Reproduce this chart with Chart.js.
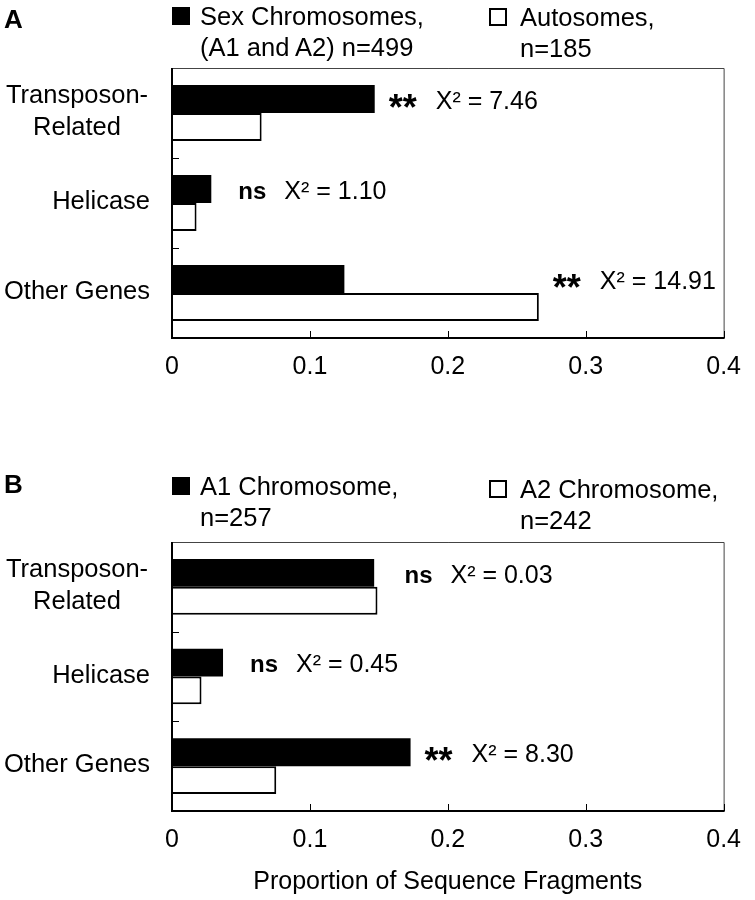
<!DOCTYPE html>
<html>
<head>
<meta charset="utf-8">
<script src="https://cdn.jsdelivr.net/npm/chart.js@4.4.1/dist/chart.umd.min.js"></script>
<style>
  body { margin: 0; background: #fff; font-family: "Liberation Sans", Arial, sans-serif; color: #000; }
  #page { position: relative; width: 755px; height: 900px; overflow: hidden; }
  canvas { position: absolute; left: 0; }
  .letter { position: absolute; font-weight: bold; font-size: 26px; line-height: 1; }
  .key { position: absolute; font-size: 25.5px; line-height: 31px; white-space: nowrap; }
  .swatch { position: absolute; width: 18px; height: 18px; box-sizing: border-box; border: 2px solid #000; }
</style>
</head>
<body>
<div id="page">
  <canvas id="chartA" width="755" height="400" style="top:0"></canvas>
  <canvas id="chartB" width="755" height="450" style="top:450px"></canvas>

  <div class="letter" style="left:4px; top:6px">A</div>
  <div class="swatch" style="left:172px; top:7px; background:#000"></div>
  <div class="key" style="left:200px; top:1px">Sex Chromosomes,<br>(A1 and A2) n=499</div>
  <div class="swatch" style="left:489px; top:8px; background:#fff"></div>
  <div class="key" style="left:520px; top:2px">Autosomes,<br>n=185</div>

  <div class="letter" style="left:4px; top:471px">B</div>
  <div class="swatch" style="left:172px; top:477px; background:#000"></div>
  <div class="key" style="left:200px; top:471px">A1 Chromosome,<br>n=257</div>
  <div class="swatch" style="left:489px; top:480px; background:#fff"></div>
  <div class="key" style="left:520px; top:474px">A2 Chromosome,<br>n=242</div>
</div>

<script>
// data
const categories = [['Transposon-', 'Related'], 'Helicase', 'Other Genes'];
const xTicks = [0, 0.1, 0.2, 0.3, 0.4];

const sexChromosomes = [0.147, 0.0285, 0.125];
const autosomes = [0.065, 0.0178, 0.266];
const sigA = ['**', 'ns', '**'];
const chiA = ['7.46', '1.10', '14.91'];

const a1Chromosome = [0.1466, 0.037, 0.173];
const a2Chromosome = [0.149, 0.0214, 0.0756];
const sigB = ['ns', 'ns', '**'];
const chiB = ['0.03', '0.45', '8.30'];

const FONT = '"Liberation Sans", Arial, sans-serif';

// box, axes and inward ticks
const framePlugin = {
    id: 'frame',
    afterDatasetsDraw(chart) {
        const { ctx, chartArea: { left, right, top, bottom }, scales: { x, y } } = chart;
        ctx.save();
        ctx.strokeStyle = '#444';
        ctx.lineWidth = 1;
        ctx.beginPath();
        ctx.moveTo(left, top + 0.5);
        ctx.lineTo(right + 0.5, top + 0.5);
        ctx.lineTo(right + 0.5, bottom);
        ctx.stroke();

        ctx.strokeStyle = '#000';
        ctx.lineWidth = 2;
        ctx.beginPath();
        ctx.moveTo(left, top);
        ctx.lineTo(left, bottom);
        ctx.lineTo(right + 1, bottom);
        ctx.stroke();

        ctx.lineWidth = 1;
        ctx.beginPath();
        x.ticks.forEach((t, i) => {
            const px = Math.round(x.getPixelForTick(i)) + 0.5;
            ctx.moveTo(px, bottom);
            ctx.lineTo(px, bottom - 7);
        });
        for (let i = 1; i < y.ticks.length; i++) {
            const py = Math.round((y.getPixelForTick(i - 1) + y.getPixelForTick(i)) / 2) + 0.5;
            ctx.moveTo(left, py);
            ctx.lineTo(left + 7, py);
        }
        ctx.stroke();
        ctx.restore();
    }
};

// category labels and significance notes
const notesPlugin = {
    id: 'notes',
    afterDraw(chart, args, opts) {
        const { ctx, chartArea: { left }, scales: { x, y } } = chart;
        ctx.save();
        ctx.fillStyle = '#000';
        ctx.textBaseline = 'middle';

        ctx.font = '25.5px ' + FONT;
        chart.data.labels.forEach((lab, i) => {
            const cy = y.getPixelForValue(i) - 1;
            if (Array.isArray(lab)) {
                ctx.textAlign = 'center';
                lab.forEach((s, k) => ctx.fillText(s, left - 95, cy + (k - (lab.length - 1) / 2) * 32));
            } else {
                ctx.textAlign = 'right';
                ctx.fillText(lab, left - 22, cy);
            }
        });

        ctx.textAlign = 'left';
        const meta = chart.getDatasetMeta(0);
        opts.sig.forEach((s, i) => {
            const end = Math.max(...chart.data.datasets.map(d => x.getPixelForValue(d.data[i])));
            const cy = meta.data[i].y + 3;
            let sx;
            if (s === '**') {
                sx = end + 14;
                ctx.font = 'bold 36px ' + FONT;
                ctx.fillText(s, sx, cy + 8);
                sx += 47;
            } else {
                sx = end + 27;
                ctx.font = 'bold 24px ' + FONT;
                ctx.fillText(s, sx, cy);
                sx += 46;
            }
            ctx.font = '25px ' + FONT;
            ctx.fillText('X\u00B2 = ' + opts.chi[i], sx, cy);
        });
        ctx.restore();
    }
};

function makeChart(id, first, second, sig, chi, padTop, axisHeight, title) {
    const ctx = document.getElementById(id).getContext('2d');
    return new Chart(ctx, {
        type: 'bar',
        data: {
            labels: categories,
            datasets: [
                { data: first, backgroundColor: '#000', borderWidth: 0 },
                { data: second, backgroundColor: '#fff', borderColor: '#000', borderWidth: 2 }
            ]
        },
        options: {
            indexAxis: 'y',
            responsive: false,
            animation: false,
            devicePixelRatio: 1,
            categoryPercentage: 0.62,
            barPercentage: 1,
            layout: { padding: { top: padTop, right: 21, left: 0, bottom: 0 } },
            plugins: {
                legend: { display: false },
                tooltip: { enabled: false },
                notes: { sig: sig, chi: chi }
            },
            scales: {
                x: {
                    min: xTicks[0],
                    max: xTicks[xTicks.length - 1],
                    grid: { display: false, drawTicks: false },
                    border: { display: false },
                    ticks: {
                        stepSize: xTicks[1] - xTicks[0],
                        autoSkip: false,
                        padding: 14,
                        color: '#000',
                        font: { size: 25, family: FONT },
                        callback: v => String(+v.toFixed(1))
                    },
                    title: {
                        display: !!title,
                        text: title,
                        color: '#000',
                        font: { size: 25, family: FONT },
                        padding: { top: 0, bottom: 3 }
                    },
                    afterFit: s => { s.height = axisHeight; }
                },
                y: {
                    grid: { display: false, drawTicks: false },
                    border: { display: false },
                    ticks: { display: false },
                    afterFit: s => { s.width = 172; }
                }
            }
        },
        plugins: [framePlugin, notesPlugin]
    });
}

makeChart('chartA', sexChromosomes, autosomes, sigA, chiA, 68, 62, '');
makeChart('chartB', a1Chromosome, a2Chromosome, sigB, chiB, 92, 89, 'Proportion of Sequence Fragments');
</script>
</body>
</html>
